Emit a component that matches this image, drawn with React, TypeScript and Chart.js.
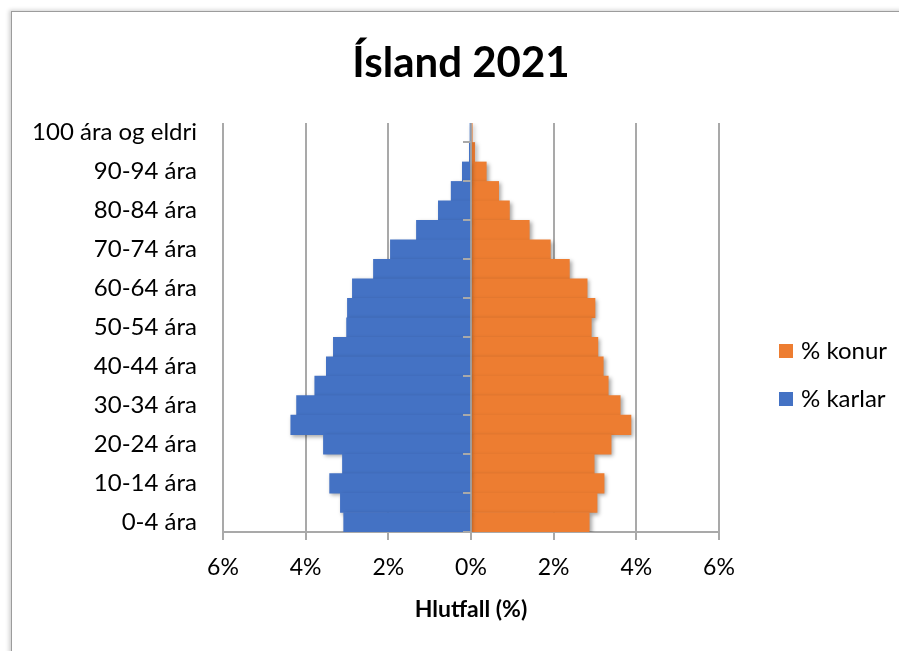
import React, { useEffect, useRef } from "react";
import { Chart, registerables } from "chart.js";

Chart.register(...registerables);

const chartTitle = "Ísland 2021";
const axisTitle = "Hlutfall (%)";
const ageGroups = [
  "100 ára og eldri",
  "95-99 ára",
  "90-94 ára",
  "85-89 ára",
  "80-84 ára",
  "75-79 ára",
  "70-74 ára",
  "65-69 ára",
  "60-64 ára",
  "55-59 ára",
  "50-54 ára",
  "45-49 ára",
  "40-44 ára",
  "35-39 ára",
  "30-34 ára",
  "25-29 ára",
  "20-24 ára",
  "15-19 ára",
  "10-14 ára",
  "5-9 ára",
  "0-4 ára",
];
const malePct = [0.01, 0.04, 0.21, 0.48, 0.79, 1.32, 1.95, 2.36, 2.87, 2.99, 3.01, 3.33, 3.5, 3.78, 4.22, 4.36, 3.57, 3.11, 3.42, 3.16, 3.08];
const femalePct = [0.03, 0.09, 0.37, 0.67, 0.93, 1.41, 1.92, 2.38, 2.81, 3.0, 2.91, 3.07, 3.2, 3.32, 3.61, 3.87, 3.39, 2.98, 3.22, 3.05, 2.86];
const maleLabel = "% karlar";
const femaleLabel = "% konur";
const xTicks = [-6, -4, -2, 0, 2, 4, 6];

const FONT = "Lato, 'Open Sans', sans-serif";
const GRID = "#a9a9a9";

const decorPlugin = {
  id: "decor",
  beforeDatasetsDraw(chart: any) {
    const ctx = chart.ctx;
    ctx.save();
    ctx.shadowColor = "rgba(0,0,0,0.35)";
    ctx.shadowBlur = 4;
    ctx.shadowOffsetX = 2;
    ctx.shadowOffsetY = 2;
  },
  afterDatasetsDraw(chart: any) {
    const ctx = chart.ctx;
    ctx.restore();
    const xs = chart.scales.x;
    const ys = chart.scales.y;
    const x0 = xs.getPixelForValue(0);
    const area = chart.chartArea;
    ctx.save();
    ctx.strokeStyle = GRID;
    ctx.lineWidth = 1.5;
    ctx.beginPath();
    ctx.moveTo(x0, area.top);
    ctx.lineTo(x0, area.bottom);
    ctx.stroke();
    const n = ageGroups.length;
    const band = ys.getPixelForValue(1) - ys.getPixelForValue(0);
    ctx.lineWidth = 2;
    for (let i = 0; i < n; i += 2) {
      const yb = Math.round(ys.getPixelForValue(i) + band / 2);
      ctx.beginPath();
      ctx.moveTo(x0 - 8, yb);
      ctx.lineTo(x0, yb);
      ctx.stroke();
    }
    ctx.restore();
  },
  afterDraw(chart: any) {
    const ctx = chart.ctx;
    ctx.save();
    ctx.fillStyle = "#000";
    ctx.textAlign = "center";
    ctx.textBaseline = "alphabetic";
    ctx.font = `bold 42px ${FONT}`;
    ctx.fillText(chartTitle, 461, 77);
    // legend
    const items = [chart.data.datasets[1], chart.data.datasets[0]];
    ctx.font = `24px ${FONT}`;
    ctx.textAlign = "left";
    items.forEach((ds: any, i: number) => {
      const cy = 351 + i * 48;
      ctx.fillStyle = ds.backgroundColor;
      ctx.fillRect(779, cy - 7, 14, 14);
      ctx.fillStyle = "#000";
      ctx.fillText(ds.label, 801, cy + 8);
    });
    ctx.restore();
  },
};

export default function App() {
  const ref = useRef<HTMLCanvasElement | null>(null);
  useEffect(() => {
    if (!ref.current) return;
    const chart = new Chart(ref.current, {
      type: "bar",
      data: {
        labels: ageGroups,
        datasets: [
          {
            label: maleLabel,
            data: malePct.map((v) => -v),
            backgroundColor: "#4472C4",
            categoryPercentage: 1,
            barPercentage: 1,
          },
          {
            label: femaleLabel,
            data: femalePct,
            backgroundColor: "#ED7D31",
            categoryPercentage: 1,
            barPercentage: 1,
          },
        ],
      },
      options: {
        indexAxis: "y",
        responsive: false,
        animation: false,
        layout: { padding: { left: 0, right: 180, top: 123, bottom: 0 } },
        plugins: {
          legend: { display: false },
          title: { display: false },
          tooltip: { enabled: false },
        },
        scales: {
          x: {
            stacked: true,
            min: -6,
            max: 6,
            afterBuildTicks(scale: any) {
              scale.ticks = xTicks.map((v) => ({ value: v }));
            },
            afterFit(scale: any) {
              scale.height = 119;
            },
            ticks: {
              color: "#000",
              padding: 14,
              font: { family: FONT, size: 23 },
              callback: (v: any) => Math.abs(Number(v)) + "%",
            },
            grid: {
              color: GRID,
              lineWidth: 2,
              tickLength: 8,
              drawTicks: true,
            },
            border: { display: true, color: GRID, width: 2 },
            title: {
              display: true,
              text: axisTitle,
              color: "#000",
              font: { family: FONT, size: 23, weight: "bold" },
              padding: { top: 0, bottom: 28 },
            },
          },
          y: {
            stacked: true,
            afterFit(scale: any) {
              scale.width = 223;
            },
            ticks: {
              autoSkip: false,
              color: "#000",
              padding: 26,
              font: { family: FONT, size: 24 },
              callback: (_v: any, i: number) => (i % 2 === 0 ? ageGroups[i] : ""),
            },
            grid: { display: false, drawTicks: false },
            border: { display: false },
          },
        },
      },
      plugins: [decorPlugin],
    });
    return () => chart.destroy();
  }, []);

  return (
    <div
      style={{
        position: "fixed",
        left: 0,
        top: 0,
        width: 899,
        height: 651,
        overflow: "hidden",
        background: "#fff",
      }}
    >
      <div
        style={{
          position: "absolute",
          left: 11,
          top: 11,
          width: 1000,
          height: 1000,
          border: "1px solid #9c9c9c",
          boxShadow: "-2px -1px 4px rgba(0,0,0,0.18)",
        }}
      />
      <canvas
        ref={ref}
        width={899}
        height={651}
        style={{ position: "absolute", left: 0, top: 0, width: 899, height: 651 }}
      />
    </div>
  );
}
